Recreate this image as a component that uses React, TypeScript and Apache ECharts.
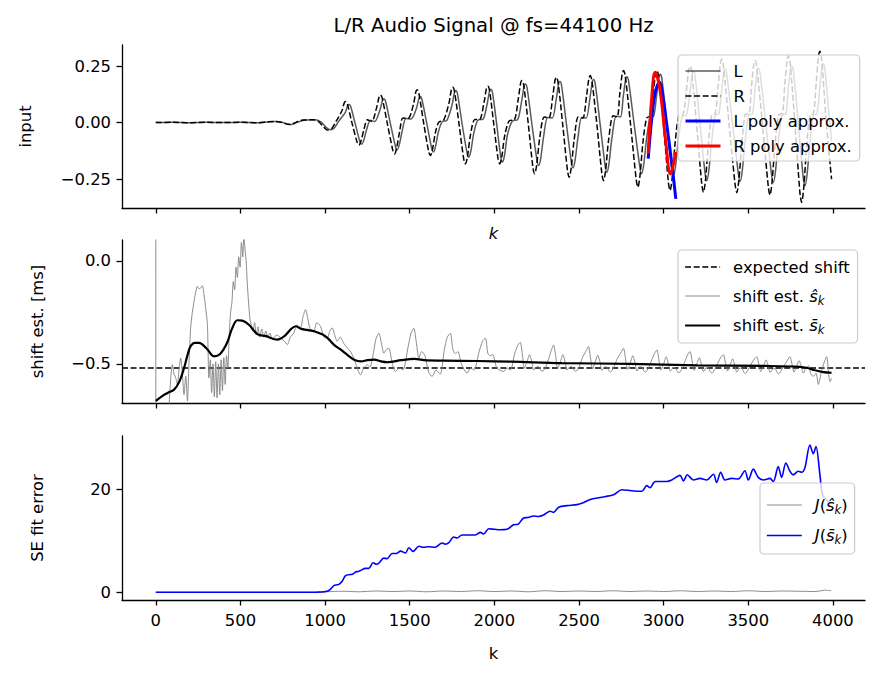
import React, { useEffect, useRef } from 'react';
import * as echarts from 'echarts';

const X_TICKS = [0, 500, 1000, 1500, 2000, 2500, 3000, 3500, 4000];
const Y1_TICKS = [-0.25, 0, 0.25];
const Y2_TICKS = [-0.5, 0];
const Y3_TICKS = [0, 20];
const EXPECTED_SHIFT = -0.52;

// Top panel: right channel (dashed), key points
const R_SIG: number[][] = [
  [0,0],[100,0.001],[200,-0.001],[300,0.001],[400,0],[500,0.001],[600,-0.001],[660,0.003],[700,0.005],[740,0.001],[790,-0.009],[830,0.002],[870,0.011],[930,0.012],[960,0.005],[990,-0.018],[1015,-0.033],[1040,-0.026],[1065,0.005],
  [1099,.051],[1113,.086],[1121,.093],[1131,.084],[1160,-.005],[1190,-.088],[1200,-.10],[1212,-.083],[1230,-.03],[1250,.012],[1275,.005],
  [1305,.067],[1319,.113],[1327,.122],[1337,.11],[1368,-.005],[1400,-.122],[1410,-.139],[1422,-.115],[1440,-.042],[1460,.02],[1490,.018],
  [1522,.08],[1536,.135],[1544,.145],[1554,.13],[1583,-.005],[1612,-.128],[1622,-.146],[1634,-.121],[1652,-.044],[1672,.002],[1700,.01],
  [1732,.086],[1746,.145],[1754,.156],[1764,.14],[1792,-.01],[1819,-.161],[1829,-.183],[1841,-.152],[1859,-.055],[1885,.014],[1912,.014],
  [1939,.089],[1953,.15],[1961,.161],[1971,.145],[1997,-.01],[2022,-.161],[2032,-.183],[2044,-.152],[2062,-.055],[2090,.009],[2118,.012],
  [2141,.102],[2155,.173],[2163,.186],[2173,.167],[2201,-.01],[2228,-.2],[2238,-.227],[2250,-.188],[2268,-.068],[2295,.024],[2322,.02],
  [2344,.11],[2358,.186],[2366,.20],[2376,.18],[2404,-.01],[2432,-.213],[2442,-.242],[2454,-.2],[2472,-.073],[2496,.024],[2522,.02],
  [2544,.114],[2558,.193],[2566,.208],[2576,.187],[2606,-.01],[2635,-.226],[2645,-.257],[2657,-.213],[2675,-.077],[2702,.03],[2725,.025],
  [2741,.127],[2755,.214],[2763,.23],[2773,.207],[2805,-.01],[2838,-.252],[2848,-.286],[2860,-.237],[2878,-.086],[2900,.02],[2922,.03],
  [2938,.127],[2952,.214],[2960,.23],[2970,.207],[2999,-.01],[3028,-.264],[3038,-.30],[3050,-.249],[3068,-.09],[3090,.03],[3115,.035],
  [3134,.138],[3148,.233],[3156,.25],[3166,.225],[3195,-.01],[3225,-.271],[3235,-.308],[3247,-.256],[3265,-.092],[3285,.035],[3305,.04],
  [3321,.154],[3335,.26],[3343,.28],[3353,.252],[3387,-.01],[3422,-.273],[3432,-.31],[3444,-.257],[3462,-.093],[3482,.035],[3505,.04],
  [3518,.151],[3532,.255],[3540,.274],[3550,.247],[3584,-.01],[3618,-.282],[3628,-.32],[3640,-.266],[3658,-.096],[3680,.035],[3702,.04],
  [3715,.163],[3729,.275],[3737,.296],[3747,.266],[3776,-.01],[3805,-.31],[3815,-.353],[3827,-.293],[3845,-.106],[3865,.035],[3885,.04],
  [3901,.173],[3915,.293],[3923,.315],[3933,.284],[3962,-.01],[3992,-.25],
];

// Top panel: left channel (solid grey)
const L_SIG: number[][] = [
  [0,0],[100,0.001],[200,-0.001],[300,0.001],[400,0],[500,0.001],[600,-0.001],[670,0.004],[710,0.005],[750,0.0],[800,-0.009],[840,0.002],[880,0.011],[940,0.012],[975,0.003],[1005,-0.02],[1030,-0.032],[1055,-0.024],[1080,0.005],
  [1119,.044],[1133,.074],[1141,.08],[1151,.072],[1178,-.005],[1206,-.085],[1216,-.096],[1228,-.08],[1246,-.03],[1268,.01],[1293,.005],
  [1325,.058],[1339,.098],[1347,.105],[1357,.095],[1386,-.005],[1416,-.106],[1426,-.12],[1438,-.1],[1456,-.036],[1478,.018],[1508,.016],
  [1540,.063],[1554,.107],[1562,.115],[1572,.103],[1601,-.005],[1630,-.114],[1640,-.13],[1652,-.108],[1670,-.04],[1692,.004],[1720,.01],
  [1750,.078],[1764,.132],[1772,.142],[1782,.128],[1810,-.008],[1839,-.135],[1849,-.153],[1861,-.127],[1879,-.046],[1905,.012],[1932,.014],
  [1957,.081],[1971,.137],[1979,.147],[1989,.132],[2014,-.008],[2038,-.154],[2048,-.175],[2060,-.145],[2078,-.053],[2108,.008],[2137,.012],
  [2161,.094],[2175,.159],[2183,.171],[2193,.154],[2222,-.008],[2252,-.167],[2262,-.19],[2274,-.158],[2292,-.057],[2315,.022],[2342,.02],
  [2365,.1],[2379,.169],[2387,.182],[2397,.164],[2426,-.008],[2455,-.176],[2465,-.20],[2477,-.166],[2495,-.06],[2516,.022],[2542,.02],
  [2564,.105],[2578,.177],[2586,.19],[2596,.171],[2625,-.008],[2655,-.194],[2665,-.22],[2677,-.183],[2695,-.066],[2720,.028],[2745,.025],
  [2761,.112],[2775,.189],[2783,.203],[2793,.183],[2826,-.008],[2860,-.199],[2870,-.226],[2882,-.188],[2900,-.068],[2920,.02],[2942,.03],
  [2958,.118],[2972,.199],[2980,.214],[2990,.193],[3019,-.008],[3048,-.207],[3058,-.235],[3070,-.195],[3088,-.07],[3110,.028],[3135,.033],
  [3154,.125],[3168,.212],[3176,.228],[3186,.205],[3215,-.008],[3245,-.226],[3255,-.257],[3267,-.213],[3285,-.077],[3305,.033],[3325,.038],
  [3341,.13],[3355,.22],[3363,.237],[3373,.213],[3407,-.008],[3442,-.229],[3452,-.26],[3464,-.216],[3482,-.078],[3502,.033],[3525,.038],
  [3538,.132],[3552,.223],[3560,.24],[3570,.216],[3604,-.008],[3638,-.233],[3648,-.265],[3660,-.22],[3678,-.08],[3700,.033],[3722,.038],
  [3735,.138],[3749,.233],[3757,.25],[3767,.225],[3796,-.008],[3825,-.246],[3835,-.28],[3847,-.232],[3865,-.084],[3885,.033],[3905,.038],
  [3921,.143],[3935,.242],[3943,.26],[3953,.234],[3975,.05],[3992,-.08],
];

const L_POLY: number[][] = [[2909,-0.16],[2930,0.02],[2950,0.13],[2975,0.178],[2995,0.12],[3018,-0.006],[3048,-0.18],[3072,-0.338]];
const R_POLY: number[][] = [[2909,-0.137],[2930,0.112],[2950,0.223],[2979,0.142],[3012,-0.08],[3041,-0.227],[3071,-0.13]];

// Middle panel
const S_HAT: number[][] = [
  [0,1.5],[1,-1.5],[60,-1.2],[79,-0.697],[98,-0.503],[108,-0.55],[118,-0.568],[128,-0.6],[138,-0.52],[147,-0.471],[157,-0.55],[167,-0.649],[177,-0.56],[187,-0.68],[196,-0.5],[206,-0.325],[216,-0.25],[226,-0.196],[236,-0.15],[246,-0.123],[255,-0.135],[265,-0.131],[275,-0.12],[285,-0.163],[295,-0.23],[305,-0.309],[314,-0.568],
  [322,-0.48],[330,-0.64],[338,-0.5],[346,-0.66],[354,-0.49],[362,-0.665],[370,-0.5],[378,-0.65],[386,-0.48],[394,-0.63],[402,-0.47],[410,-0.6],[418,-0.46],[426,-0.52],[433,-0.374],[442,-0.25],[450,-0.2],[458,-0.1],[466,-0.14],[474,-0.03],[482,-0.08],[490,0.02],[498,-0.03],[506,0.09],[514,0.02],[520,0.12],[528,0.05],[534,0.0],[540,-0.1],[548,-0.2],[556,-0.28],[564,-0.31],
  [574,-0.34],[584,-0.3],[594,-0.36],[604,-0.32],[614,-0.37],[626,-0.33],[638,-0.37],[650,-0.34],[662,-0.37],[675,-0.35],[688,-0.38],[698,-0.374],[712,-0.36],[727,-0.365],[745,-0.38],[760,-0.39],[777,-0.406],[795,-0.37],[815,-0.35],[835,-0.31],[855,-0.325],[870,-0.27],[885,-0.236],[898,-0.28],[912,-0.33],[934,-0.341],[950,-0.3],[973,-0.317],[993,-0.37],[1013,-0.374],[1028,-0.34],[1042,-0.325],[1057,-0.36],[1072,-0.39],[1090,-0.37],[1110,-0.4],[1130,-0.42],[1150,-0.44],[1170,-0.473],[1190,-0.52],[1209,-0.553],[1229,-0.52],[1249,-0.505],[1265,-0.515],[1285,-0.45],[1300,-0.38],[1318,-0.351],[1333,-0.4],[1347,-0.448],[1362,-0.43],[1377,-0.424],[1395,-0.49],[1416,-0.537],[1440,-0.52],[1460,-0.53],[1490,-0.42],[1508,-0.35],[1524,-0.327],[1540,-0.4],[1554,-0.473],[1570,-0.44],[1590,-0.46],[1612,-0.54],[1632,-0.561],[1655,-0.53],[1680,-0.55],[1705,-0.43],[1722,-0.37],[1740,-0.351],[1755,-0.43],[1770,-0.45],[1785,-0.44],[1805,-0.5],[1839,-0.545],[1860,-0.52],[1880,-0.53],[1910,-0.44],[1930,-0.39],[1947,-0.375],[1962,-0.45],[1975,-0.46],[1990,-0.455],[2015,-0.52],[2055,-0.537],[2075,-0.52],[2095,-0.53],[2120,-0.45],[2138,-0.41],
  [2153,-0.395],[2165,-0.45],[2177,-0.521],[2193,-0.49],[2208,-0.455],[2221,-0.49],[2232,-0.53],[2248,-0.515],[2261,-0.513],[2273,-0.53],[2283,-0.537],[2303,-0.515],[2323,-0.47],[2338,-0.43],
  [2350,-0.408],[2362,-0.46],[2374,-0.521],[2390,-0.49],[2405,-0.455],[2418,-0.49],[2429,-0.53],[2445,-0.515],[2458,-0.513],[2470,-0.53],[2480,-0.537],[2500,-0.515],[2520,-0.47],[2540,-0.44],
  [2556,-0.416],[2568,-0.47],[2580,-0.525],[2596,-0.49],[2611,-0.458],[2624,-0.49],[2635,-0.532],[2651,-0.515],[2664,-0.515],[2676,-0.532],[2686,-0.54],[2706,-0.515],[2726,-0.475],[2748,-0.445],
  [2763,-0.424],[2775,-0.475],[2787,-0.527],[2803,-0.495],[2818,-0.46],[2831,-0.495],[2842,-0.535],[2858,-0.515],[2871,-0.515],[2883,-0.535],[2893,-0.54],[2913,-0.515],[2930,-0.48],[2946,-0.45],
  [2960,-0.432],[2972,-0.48],[2984,-0.53],[3000,-0.5],[3015,-0.465],[3028,-0.5],[3039,-0.535],[3055,-0.52],[3068,-0.517],[3080,-0.537],[3090,-0.543],[3110,-0.52],[3127,-0.485],[3142,-0.455],
  [3156,-0.44],[3168,-0.485],[3180,-0.532],[3196,-0.5],[3211,-0.47],[3224,-0.505],[3235,-0.537],[3251,-0.52],[3264,-0.518],[3276,-0.538],[3286,-0.545],[3306,-0.52],[3324,-0.49],[3340,-0.465],
  [3353,-0.456],[3365,-0.495],[3377,-0.535],[3393,-0.505],[3408,-0.475],[3421,-0.51],[3432,-0.54],[3448,-0.522],[3461,-0.52],[3473,-0.54],[3483,-0.547],[3503,-0.522],[3521,-0.495],[3537,-0.475],
  [3550,-0.465],[3562,-0.5],[3574,-0.537],[3590,-0.51],[3605,-0.48],[3618,-0.512],[3629,-0.542],[3645,-0.525],[3658,-0.522],[3670,-0.542],[3680,-0.548],[3700,-0.525],[3718,-0.5],[3733,-0.48],
  [3746,-0.465],[3758,-0.5],[3770,-0.54],[3786,-0.51],[3801,-0.485],[3814,-0.515],[3825,-0.545],[3841,-0.52],[3856,-0.51],[3870,-0.55],[3885,-0.56],[3900,-0.545],[3914,-0.6],[3930,-0.545],[3945,-0.5],
  [3963,-0.465],[3975,-0.55],[3983,-0.586],[3992,-0.57],
];

const S_BAR: number[][] = [
  [0,-0.68],[40,-0.655],[70,-0.641],[108,-0.625],[140,-0.585],[167,-0.52],[190,-0.45],[206,-0.414],[230,-0.398],[255,-0.398],[300,-0.425],[344,-0.463],[380,-0.452],[420,-0.4],[450,-0.33],[482,-0.288],[511,-0.29],[550,-0.31],[600,-0.355],[650,-0.365],[718,-0.382],[760,-0.365],[800,-0.33],[826,-0.317],[860,-0.33],[894,-0.335],[940,-0.343],[1003,-0.366],[1050,-0.405],[1091,-0.43],[1130,-0.455],[1172,-0.48],[1212,-0.488],[1250,-0.482],[1290,-0.479],[1330,-0.488],[1369,-0.492],[1450,-0.482],[1526,-0.476],[1600,-0.483],[1700,-0.484],[1900,-0.486],[2100,-0.489],[2400,-0.496],[2800,-0.5],[3200,-0.507],[3600,-0.51],[3805,-0.514],[3850,-0.52],[3884,-0.529],[3943,-0.54],[3992,-0.543],
];

// Bottom panel
const J_HAT: number[][] = [
  [0,0.05],[500,0.05],[990,0.05],[1010,0.15],[1100,0.25],[1200,0.15],[1300,0.3],[1400,0.2],[1500,0.3],[1600,0.15],[1700,0.3],[1800,0.2],[1900,0.35],[2000,0.2],[2100,0.3],[2200,0.15],[2300,0.35],[2400,0.2],[2500,0.3],[2600,0.2],[2700,0.35],[2800,0.2],[2900,0.3],[3000,0.2],[3100,0.35],[3200,0.2],[3300,0.3],[3400,0.2],[3500,0.35],[3600,0.2],[3700,0.3],[3800,0.25],[3900,0.2],[3950,0.45],[3990,0.35],
];

const J_BAR: number[][] = [
  [0,0.05],[200,0.05],[400,0.05],[600,0.05],[800,0.06],[950,0.08],[993,0.15],[1023,0.4],[1052,1.36],[1070,1.5],[1082,1.6],[1101,2.2],[1121,3.3],[1150,3.5],[1165,3.6],[1180,4.0],[1195,4.1],[1210,4.3],[1239,4.7],[1258,4.7],[1284,5.8],[1305,5.5],[1320,5.8],[1347,6.7],[1366,6.6],[1396,7.6],[1420,7.6],[1446,8.05],[1475,7.7],[1495,8.7],[1520,8.0],[1554,9.0],[1580,8.8],[1610,8.9],[1650,8.8],[1691,9.65],[1710,9.4],[1730,9.65],[1760,10.8],[1780,10.6],[1809,11.2],[1858,11.2],[1888,11.2],[1917,11.7],[1937,11.4],[1967,12.4],[2000,12.3],[2035,12.2],[2075,12.3],[2114,13.2],[2140,13.3],[2173,14.5],[2200,14.6],[2232,14.9],[2260,14.8],[2291,15.1],[2310,15.5],[2330,15.8],[2350,15.6],[2380,16.6],[2430,16.9],[2488,17.1],[2520,17.4],[2566,18.1],[2625,18.5],[2704,19.0],[2753,20.0],[2810,19.8],[2871,19.7],[2900,20.8],[2920,20.4],[2950,21.6],[3018,21.6],[3048,21.9],[3097,22.8],[3117,21.7],[3140,22.9],[3176,21.9],[3215,22.2],[3254,21.9],[3294,23.0],[3313,21.4],[3337,23.4],[3362,21.9],[3402,22.2],[3441,22.1],[3480,23.7],[3500,21.9],[3530,24.0],[3559,22.4],[3589,21.9],[3628,22.2],[3648,21.6],[3677,24.5],[3697,22.4],[3722,25.2],[3746,23.6],[3766,22.9],[3795,23.6],[3815,23.4],[3834,24.2],[3864,28.7],[3884,27.0],[3900,28.4],[3923,23.0],[3939,19.0],[3972,17.7],[3992,17.4],
];

const FONT = 'DejaVu Sans';
const FS = 16.4;
const GRIDS = [
  { left: 122, top: 45, width: 743, height: 163 },
  { left: 122, top: 240, width: 743, height: 163 },
  { left: 122, top: 436, width: 743, height: 164 },
];

function fmtMinus(s: string) {
  return s.replace('-', '\u2212');
}

function makeX(i: number) {
  return {
    type: 'value', gridIndex: i, min: -199.5, max: 4189.5,
    axisLine: { show: true, onZero: false, lineStyle: { color: '#000', width: 1.3 } },
    axisTick: { show: true, length: 5.5, customValues: X_TICKS, lineStyle: { color: '#000', width: 1.3 } },
    axisLabel: { show: i === 2, customValues: X_TICKS, fontSize: FS, fontFamily: FONT, color: '#000', margin: 12, formatter: (v: number) => String(v) },
    splitLine: { show: false },
  };
}

function makeY(i: number, min: number, max: number, ticks: number[], fmt: (v: number) => string) {
  return {
    type: 'value', gridIndex: i, min, max,
    axisLine: { show: true, onZero: false, lineStyle: { color: '#000', width: 1.3 } },
    axisTick: { show: true, length: 5.5, customValues: ticks, lineStyle: { color: '#000', width: 1.3 } },
    axisLabel: { show: true, customValues: ticks, fontSize: FS, fontFamily: FONT, color: '#000', margin: 11, formatter: fmt },
    splitLine: { show: false },
  };
}

const richStyles = {
  i: { fontStyle: 'italic', fontSize: FS, fontFamily: FONT, color: '#000' },
  n: { fontSize: FS, fontFamily: FONT, color: '#000' },
  sub: { fontStyle: 'italic', fontSize: 11.5, fontFamily: FONT, color: '#000', padding: [9, 0, 0, 0] },
};

function legendBase(left: number, top: number, padding: number[], gap: number, lh: number, data: any[]) {
  return {
    left, top, orient: 'vertical', data, padding, itemGap: gap,
    itemWidth: 35, itemHeight: 14,
    backgroundColor: 'rgba(255,255,255,0.8)', borderColor: '#cccccc', borderWidth: 1.2, borderRadius: 4,
    selectedMode: false,
    itemStyle: { opacity: 0 },
    textStyle: { fontSize: FS, fontFamily: FONT, color: '#000', lineHeight: lh, padding: [0, 0, 0, 8], rich: richStyles },
  };
}

function item(name: string, width: number) {
  return { name, lineStyle: { width } };
}

function line(name: string, data: number[][], xi: number, color: string, width: number, extra: any = {}) {
  return {
    type: 'line', name, data, xAxisIndex: xi, yAxisIndex: xi, showSymbol: false, symbol: 'none',
    lineStyle: { color, width, ...(extra.lineStyle || {}) }, itemStyle: { color },
    smooth: extra.smooth ?? 0, z: extra.z ?? 2, clip: true,
  };
}

export default function App() {
  const ref = useRef<HTMLDivElement>(null);
  useEffect(() => {
    const chart = echarts.init(ref.current!, null, { renderer: 'svg' });
    const option: any = {
      animation: false,
      backgroundColor: '#ffffff',
      grid: GRIDS,
      xAxis: [makeX(0), makeX(1), makeX(2)],
      yAxis: [
        makeY(0, -0.378, 0.343, Y1_TICKS, (v: number) => fmtMinus(v.toFixed(2))),
        makeY(1, -0.69, 0.102, Y2_TICKS, (v: number) => fmtMinus(v.toFixed(1))),
        makeY(2, -1.45, 30.45, Y3_TICKS, (v: number) => fmtMinus(String(Math.round(v)))),
      ],
      legend: [
        legendBase(678, 55, [8, 8, 7, 6], 9, 16, [item('L', 1.5), item('R', 1.5), item('L poly approx.', 3), item('R poly approx.', 3)]),
        {
          ...legendBase(678, 250, [7, 8, 7, 6], 9, 20, [item('expected shift', 1.4), item('shat', 0.9), item('sbar', 2.2)]),
          formatter: (name: string) =>
            name === 'shat' ? '{n|shift est. }{i|ŝ}{sub|k}' : name === 'sbar' ? '{n|shift est. }{i|s\u0304}{sub|k}' : name,
        },
        {
          ...legendBase(760, 483, [12, 7, 8, 6], 10, 20, [item('Jhat', 0.9), item('Jbar', 1.6)]),
          formatter: (name: string) =>
            name === 'Jhat' ? '{i|J}{n|(}{i|ŝ}{sub|k}{n|)}' : '{i|J}{n|(}{i|s\u0304}{sub|k}{n|)}',
        },
      ],
      graphic: [
        { type: 'text', x: 493.5, y: 25, style: { text: 'L/R Audio Signal @ fs=44100 Hz', font: `19.7px "${FONT}"`, fill: '#000', align: 'center', verticalAlign: 'middle' } },
        { type: 'text', x: 493.5, y: 233, style: { text: 'k', font: `italic ${FS}px "${FONT}"`, fill: '#000', align: 'center', verticalAlign: 'middle' } },
        { type: 'text', x: 493.5, y: 653, style: { text: 'k', font: `${FS}px "${FONT}"`, fill: '#000', align: 'center', verticalAlign: 'middle' } },
        { type: 'text', x: 25, y: 126.5, rotation: Math.PI / 2, style: { text: 'input', font: `${FS}px "${FONT}"`, fill: '#000', align: 'center', verticalAlign: 'middle' } },
        { type: 'text', x: 37, y: 321.5, rotation: Math.PI / 2, style: { text: 'shift est. [ms]', font: `${FS}px "${FONT}"`, fill: '#000', align: 'center', verticalAlign: 'middle' } },
        { type: 'text', x: 37, y: 518, rotation: Math.PI / 2, style: { text: 'SE fit error', font: `${FS}px "${FONT}"`, fill: '#000', align: 'center', verticalAlign: 'middle' } },
      ],
      series: [
        line('L', L_SIG, 0, '#5a5a5a', 1.5, { smooth: 0.3 }),
        line('R', R_SIG, 0, '#000000', 1.5, { smooth: 0.3, lineStyle: { type: [6, 2.6] }, z: 3 }),
        line('L poly approx.', L_POLY, 0, '#0000ff', 3, { smooth: 0.4, z: 4 }),
        line('R poly approx.', R_POLY, 0, '#ff0000', 3, { smooth: 0.4, z: 5 }),
        line('expected shift', [[-199.5, EXPECTED_SHIFT], [4189.5, EXPECTED_SHIFT]], 1, '#000000', 1.4, { lineStyle: { type: [6, 2.6] } }),
        line('shat', S_HAT, 1, '#808080', 0.9, { smooth: 0.25 }),
        line('sbar', S_BAR, 1, '#000000', 2.2, { smooth: 0.35, z: 3 }),
        line('Jhat', J_HAT, 2, '#808080', 0.9, { smooth: 0.3 }),
        line('Jbar', J_BAR, 2, '#0000ff', 1.6, { smooth: 0.3, z: 3 }),
      ],
    };
    chart.setOption(option);
    return () => chart.dispose();
  }, []);
  return <div ref={ref} style={{ position: 'absolute', left: 0, top: 0, width: 880, height: 678 }} />;
}
